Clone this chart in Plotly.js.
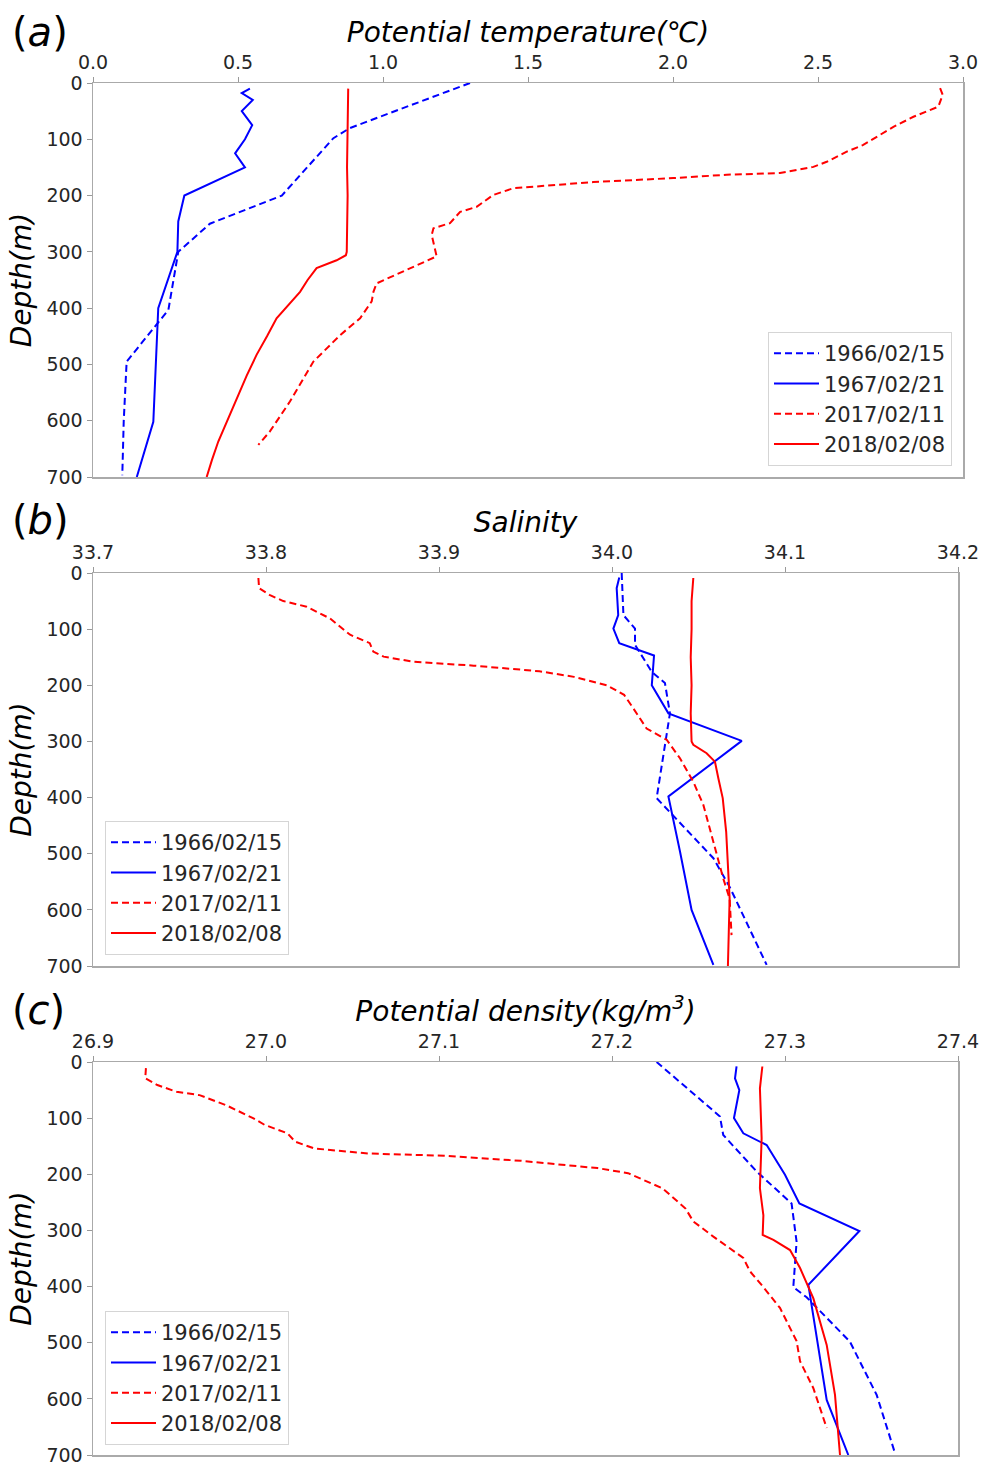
<!DOCTYPE html>
<html>
<head>
<meta charset="utf-8">
<script src="https://cdn.plot.ly/plotly-3.0.1.min.js"></script>
<style>html,body{margin:0;padding:0;background:#fff;}#chart{width:985px;height:1468px;}</style>
</head>
<body>
<div id="chart"></div>
<script>
// ---- Data ----
const seriesNames = ['1966/02/15', '1967/02/21', '2017/02/11', '2018/02/08'];
const depthTicks = [0, 100, 200, 300, 400, 500, 600, 700];

// Panel (a) potential temperature
const temp1966Depth = [0, 80, 98, 200, 250, 300, 403, 495, 600, 697];
const temp1966 = [1.30, 0.886, 0.829, 0.651, 0.403, 0.294, 0.260, 0.116, 0.106, 0.101];
const temp1967Depth = [10, 18, 30, 50, 75, 100, 125, 150, 200, 246, 300, 400, 602, 700];
const temp1967 = [0.541, 0.513, 0.551, 0.513, 0.549, 0.524, 0.490, 0.524, 0.315, 0.294, 0.291, 0.225, 0.208, 0.151];
const temp2017Depth = [9, 21, 42, 60, 78, 110, 122, 140, 149, 160, 163, 169, 176, 181, 187, 199, 220, 229, 249, 258, 270, 308, 326, 347, 356, 371, 388, 418, 448, 495, 566, 619, 643];
const temp2017 = [2.921, 2.930, 2.915, 2.829, 2.760, 2.656, 2.599, 2.530, 2.484, 2.369, 2.185, 2.001, 1.725, 1.610, 1.449, 1.380, 1.323, 1.266, 1.231, 1.174, 1.168, 1.185, 1.105, 1.013, 0.978, 0.967, 0.961, 0.921, 0.852, 0.760, 0.679, 0.610, 0.570];
const temp2018Depth = [10, 50, 100, 150, 200, 250, 300, 306, 315, 329, 350, 371, 400, 418, 450, 483, 520, 560, 600, 637, 670, 700];
const temp2018 = [0.880, 0.879, 0.877, 0.876, 0.878, 0.877, 0.875, 0.872, 0.840, 0.771, 0.740, 0.714, 0.665, 0.633, 0.600, 0.564, 0.530, 0.496, 0.462, 0.432, 0.410, 0.392];

// Panel (b) salinity
const sal1966Depth = [0, 75, 99, 128, 176, 196, 250, 401, 508, 559, 698];
const sal1966 = [34.0056, 34.0066, 34.0133, 34.0133, 34.0230, 34.0306, 34.0335, 34.0258, 34.0586, 34.0680, 34.0894];
const sal1967Depth = [8, 27, 75, 99, 125, 147, 200, 250, 299, 398, 496, 600, 698];
const sal1967 = [34.0042, 34.0027, 34.0036, 34.0008, 34.0042, 34.0243, 34.0230, 34.0326, 34.0750, 34.0326, 34.0393, 34.0460, 34.0586];
const sal2017Depth = [9, 27, 39, 50, 60, 81, 110, 125, 140, 149, 158, 165, 175, 185, 200, 217, 241, 277, 297, 330, 372, 413, 479, 544, 580, 645];
const sal2017 = [33.7956, 33.7960, 33.8020, 33.8100, 33.8235, 33.8370, 33.8486, 33.8600, 33.8620, 33.8680, 33.8850, 33.9200, 33.9580, 33.9780, 33.9970, 34.0070, 34.0123, 34.0200, 34.0316, 34.0393, 34.0470, 34.0528, 34.0586, 34.0643, 34.0680, 34.0691];
const sal2018Depth = [9, 50, 100, 150, 200, 250, 300, 306, 321, 336, 366, 401, 461, 520, 580, 640, 700];
const sal2018 = [34.0470, 34.0460, 34.0460, 34.0455, 34.0460, 34.0455, 34.0460, 34.0470, 34.0547, 34.0595, 34.0615, 34.0640, 34.0660, 34.0670, 34.0680, 34.0675, 34.0670];

// Panel (c) potential density
const den1966Depth = [0, 97, 130, 195, 252, 320, 401, 419, 498, 593, 697];
const den1966 = [27.2258, 27.2624, 27.2643, 27.2836, 27.3038, 27.3067, 27.3048, 27.3125, 27.3375, 27.3530, 27.3636];
const den1967Depth = [8, 29, 50, 100, 127, 148, 201, 252, 301, 397, 602, 700];
const den1967 = [27.2720, 27.2711, 27.2736, 27.2705, 27.2759, 27.2894, 27.3000, 27.3083, 27.3430, 27.3135, 27.3241, 27.3366];
const den2017Depth = [11, 29, 41, 53, 59, 77, 100, 112, 127, 142, 154, 163, 167, 176, 189, 198, 225, 261, 284, 311, 349, 373, 401, 438, 497, 533, 581, 652];
const den2017 = [26.9306, 26.9302, 26.9372, 26.9483, 26.9616, 26.9770, 26.9925, 26.9992, 27.0124, 27.0169, 27.0279, 27.0589, 27.1031, 27.1474, 27.1916, 27.2093, 27.2292, 27.2425, 27.2470, 27.2586, 27.2759, 27.2798, 27.2875, 27.2971, 27.3067, 27.3087, 27.3164, 27.3241];
const den2018Depth = [8, 47, 136, 225, 273, 308, 317, 335, 367, 421, 504, 593, 700];
const den2018 = [27.2869, 27.2855, 27.2865, 27.2855, 27.2875, 27.2871, 27.2933, 27.3029, 27.3087, 27.3164, 27.3241, 27.3289, 27.3318];

const tempTicks = [0.0, 0.5, 1.0, 1.5, 2.0, 2.5, 3.0];
const salTicks = [33.7, 33.8, 33.9, 34.0, 34.1, 34.2];
const denTicks = [26.9, 27.0, 27.1, 27.2, 27.3, 27.4];

// ---- Styling ----
const FONT = 'DejaVu Sans';
const W = 985, H = 1468;
const styles = [
  {color: '#0000ff', dash: '7px,4px'},
  {color: '#0000ff', dash: 'solid'},
  {color: '#ff0000', dash: '7px,4px'},
  {color: '#ff0000', dash: 'solid'}
];

function mk(x, y, i, axn, leg) {
  return {
    x: x, y: y, type: 'scatter', mode: 'lines', name: seriesNames[i],
    line: {color: styles[i].color, dash: styles[i].dash, width: 2},
    xaxis: 'x' + (axn === 1 ? '' : axn), yaxis: 'y' + (axn === 1 ? '' : axn),
    legend: leg, showlegend: true
  };
}

const traces = [
  mk(temp1966, temp1966Depth, 0, 1, 'legend'),
  mk(temp1967, temp1967Depth, 1, 1, 'legend'),
  mk(temp2017, temp2017Depth, 2, 1, 'legend'),
  mk(temp2018, temp2018Depth, 3, 1, 'legend'),
  mk(sal1966, sal1966Depth, 0, 2, 'legend2'),
  mk(sal1967, sal1967Depth, 1, 2, 'legend2'),
  mk(sal2017, sal2017Depth, 2, 2, 'legend2'),
  mk(sal2018, sal2018Depth, 3, 2, 'legend2'),
  mk(den1966, den1966Depth, 0, 3, 'legend3'),
  mk(den1967, den1967Depth, 1, 3, 'legend3'),
  mk(den2017, den2017Depth, 2, 3, 'legend3'),
  mk(den2018, den2018Depth, 3, 3, 'legend3')
];

const tickFont = {family: FONT, size: 19, color: '#262626'};
const titleFont = {family: FONT, size: 28, color: '#000'};

function xax(range, ticks, fmt, title, yanchor, rightPx) {
  return {
    domain: [93 / W, rightPx / W], range: range, side: 'top', anchor: yanchor,
    tickmode: 'array', tickvals: ticks, ticktext: ticks.map(v => v.toFixed(fmt)),
    ticks: 'outside', ticklen: 5, tickwidth: 1, tickcolor: '#999',
    showline: true, mirror: true, linecolor: '#aaa', linewidth: 1.5,
    showgrid: false, zeroline: false, tickfont: tickFont,
    title: {text: '<i>' + title + '</i>', font: titleFont, standoff: 0}
  };
}
function yax(topPx, botPx, xanchor) {
  return {
    domain: [1 - botPx / H, 1 - topPx / H], range: [700, 0], anchor: xanchor,
    tickmode: 'array', tickvals: depthTicks, ticktext: depthTicks.map(String),
    ticks: 'outside', ticklen: 5, tickwidth: 1, tickcolor: '#999',
    showline: true, mirror: true, linecolor: '#aaa', linewidth: 1.5,
    showgrid: false, zeroline: false, tickfont: tickFont,
    title: {text: '<i>Depth(m)</i>', font: titleFont, standoff: 6}
  };
}

const legendCommon = {
  font: {family: FONT, size: 21, color: '#262626'},
  bgcolor: 'rgba(255,255,255,0.9)', bordercolor: '#d5d5d5', borderwidth: 1,
  itemwidth: 45, tracegroupgap: 0, traceorder: 'normal'
};

const layout = {
  width: W, height: H,
  margin: {l: 0, r: 0, t: 0, b: 0},
  paper_bgcolor: '#fff', plot_bgcolor: '#fff',
  font: {family: FONT},
  showlegend: true,
  xaxis: xax([0, 3.0], tempTicks, 1, 'Potential temperature(℃)', 'y', 963),
  yaxis: yax(83, 477, 'x'),
  xaxis2: xax([33.7, 34.2], salTicks, 1, 'Salinity', 'y2', 958),
  yaxis2: yax(573, 966, 'x2'),
  xaxis3: xax([26.9, 27.4], denTicks, 1, 'Potential density(kg/m<sup>3</sup>)', 'y3', 958),
  yaxis3: yax(1062, 1455, 'x3'),
  legend: Object.assign({}, legendCommon, {x: 952 / W, y: 1 - 466 / H, xanchor: 'right', yanchor: 'bottom'}),
  legend2: Object.assign({}, legendCommon, {x: 105 / W, y: 1 - 955 / H, xanchor: 'left', yanchor: 'bottom'}),
  legend3: Object.assign({}, legendCommon, {x: 105 / W, y: 1 - 1445 / H, xanchor: 'left', yanchor: 'bottom'}),
  annotations: [
    {text: '(<i>a</i>)', x: 10 / W, y: 1 - 32 / H},
    {text: '(<i>b</i>)', x: 10 / W, y: 1 - 520 / H},
    {text: '(<i>c</i>)', x: 10 / W, y: 1 - 1010 / H}
  ].map(a => Object.assign(a, {xref: 'paper', yref: 'paper', xanchor: 'left', yanchor: 'middle', showarrow: false, font: {family: FONT, size: 40, color: '#000'}}))
};

Plotly.newPlot('chart', traces, layout, {displayModeBar: false, staticPlot: true});
</script>
</body>
</html>
